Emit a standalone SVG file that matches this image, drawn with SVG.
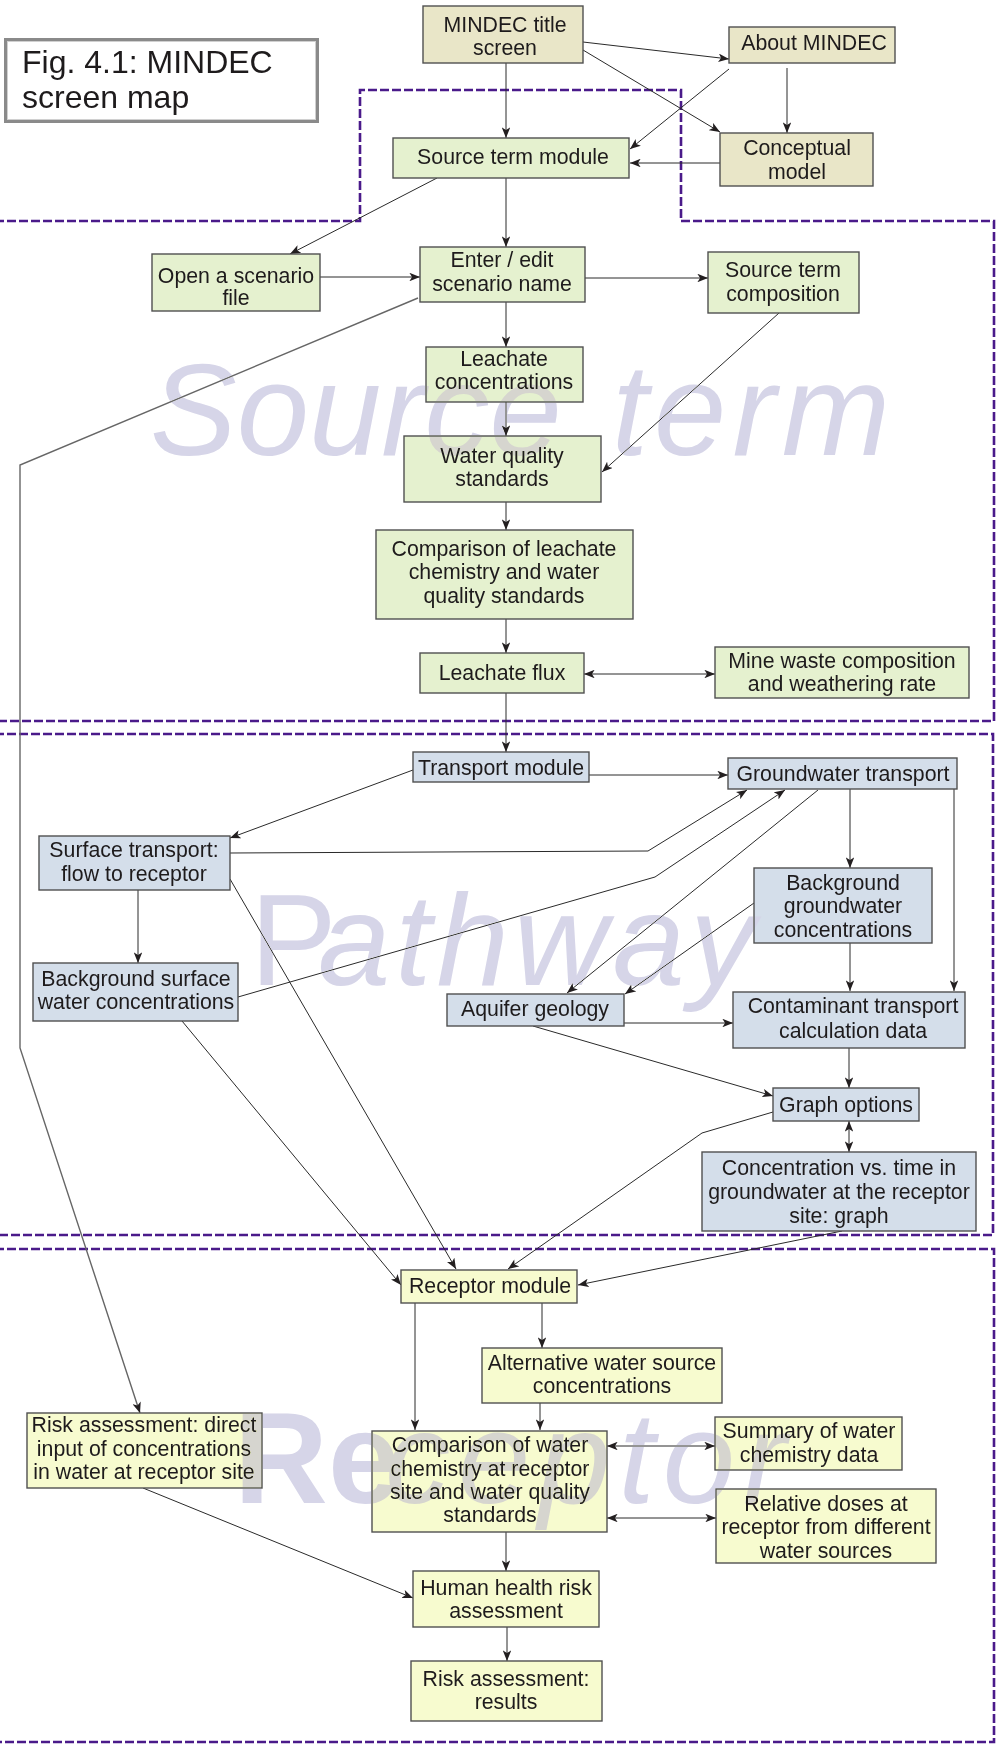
<svg xmlns="http://www.w3.org/2000/svg" width="996" height="1754" viewBox="0 0 996 1754">
<style>
text{font-family:"Liberation Sans",Arial,sans-serif;fill:#1e1b1c}
.n rect{stroke:#505050;stroke-width:1.4}
.n text{font-size:21.3px;text-anchor:middle}
.beige rect{fill:#e9e6c8}
.green rect{fill:#e5f1cf}
.blue rect{fill:#d4deea}
.yellow rect{fill:#f7fbcf}
.c line,.c polyline{stroke:#2a2a2a;stroke-width:1;fill:none}
.a{marker-end:url(#ah)}
.d{marker-start:url(#ah);marker-end:url(#ah)}
.reg{fill:none;stroke:#4a1a8a;stroke-width:2.6;stroke-dasharray:9 3}
.wm{fill:#d6d5e8;font-size:130px;mix-blend-mode:darken}
</style>
<defs>
<marker id="ah" viewBox="0 0 10 8" refX="10" refY="4" markerWidth="11" markerHeight="8.5" markerUnits="userSpaceOnUse" orient="auto-start-reverse">
<path d="M0,0 L10,4 L0,8 L2.5,4 z" fill="#231f20"/>
</marker>
</defs>
<rect width="996" height="1754" fill="#fff"/>

<g id="regions">
<path class="reg" d="M-5,221 H360 V90 H681 V221 H994 V721 H-5"/>
<path class="reg" d="M-5,734 H993 V1235 H-5"/>
<path class="reg" d="M-5,1249 H994 V1742 H-5"/>
</g>

<g id="connectors" class="c">
<line class="a" x1="583" y1="42" x2="729" y2="59"/>
<line class="a" x1="583" y1="50" x2="720" y2="132"/>
<line class="a" x1="506" y1="63" x2="506" y2="138"/>
<line class="a" x1="729" y1="69" x2="630" y2="149"/>
<line class="a" x1="787" y1="68" x2="787" y2="133"/>
<line class="a" x1="720" y1="163" x2="630" y2="163"/>
<line class="a" x1="437" y1="178" x2="290" y2="254"/>
<line class="a" x1="506" y1="178" x2="506" y2="247"/>
<line class="a" x1="320" y1="277" x2="420" y2="277"/>
<line class="a" x1="585" y1="278" x2="708" y2="278"/>
<line class="a" x1="506" y1="302" x2="506" y2="347"/>
<line class="a" x1="506" y1="402" x2="506" y2="436"/>
<line class="a" x1="779" y1="313" x2="602" y2="472"/>
<line class="a" x1="506" y1="502" x2="506" y2="530"/>
<line class="a" x1="506" y1="619" x2="506" y2="653"/>
<line class="d" x1="584" y1="674" x2="715" y2="674"/>
<line class="a" x1="506" y1="693" x2="506" y2="752"/>
<polyline class="a" points="418,298 20,465 20,1048 140,1413" style="stroke:#666;stroke-width:1.4"/>
<line class="a" x1="413" y1="770" x2="230" y2="838"/>
<line class="a" x1="589" y1="775" x2="728" y2="775"/>
<polyline class="a" points="230,853 648,851 747,790"/>
<polyline class="a" points="238,997 655,877 785,790"/>
<line class="a" x1="138" y1="890" x2="138" y2="963"/>
<line class="a" x1="230" y1="879" x2="456" y2="1269"/>
<line class="a" x1="182" y1="1021" x2="401" y2="1285"/>
<line class="a" x1="818" y1="790" x2="567" y2="993"/>
<line class="a" x1="754" y1="903" x2="625" y2="994"/>
<line class="a" x1="850" y1="789" x2="850" y2="868"/>
<line class="a" x1="954" y1="789" x2="954" y2="991"/>
<line class="a" x1="850" y1="943" x2="850" y2="991"/>
<line class="a" x1="624" y1="1023" x2="733" y2="1023"/>
<line class="a" x1="533" y1="1026" x2="773" y2="1096"/>
<line class="a" x1="849" y1="1048" x2="849" y2="1088"/>
<line class="d" x1="849" y1="1121" x2="849" y2="1152"/>
<polyline class="a" points="773,1112 702,1133 508,1269"/>
<line class="a" x1="842" y1="1231" x2="578" y2="1285"/>
<line class="a" x1="542" y1="1303" x2="542" y2="1348"/>
<line class="a" x1="415" y1="1303" x2="415" y2="1430"/>
<line class="a" x1="540" y1="1403" x2="540" y2="1430"/>
<line class="d" x1="607" y1="1446" x2="715" y2="1446"/>
<line class="d" x1="607" y1="1518" x2="716" y2="1518"/>
<line class="a" x1="506" y1="1532" x2="506" y2="1571"/>
<line class="a" x1="507" y1="1627" x2="507" y2="1661"/>
<line class="a" x1="143" y1="1488" x2="413" y2="1598"/>
</g>

<g id="fig-title">
<rect x="5.5" y="39.5" width="312" height="82" fill="#fff" stroke="#8a8a8a" stroke-width="3"/>
<rect x="7.5" y="41.5" width="308" height="78" fill="none" stroke="#d0d0d0" stroke-width="1"/>
<text x="22" y="73" font-size="32">Fig. 4.1: MINDEC</text>
<text x="22" y="108" font-size="32">screen map</text>
</g>

<g id="n-title" class="n beige"><rect x="423" y="6" width="160" height="57"/><text x="505" y="32">MINDEC title</text><text x="505" y="55">screen</text></g>
<g id="n-about" class="n beige"><rect x="729" y="27" width="166" height="36"/><text x="814" y="50">About MINDEC</text></g>
<g id="n-concept" class="n beige"><rect x="720" y="133" width="153" height="53"/><text x="797" y="155">Conceptual</text><text x="797" y="179">model</text></g>

<g id="n-srcmod" class="n green"><rect x="393" y="138" width="236" height="40"/><text x="513" y="164">Source term module</text></g>
<g id="n-open" class="n green"><rect x="152" y="254" width="168" height="57"/><text x="236" y="283">Open a scenario</text><text x="236" y="305">file</text></g>
<g id="n-enter" class="n green"><rect x="420" y="247" width="165" height="55"/><text x="502" y="267">Enter / edit</text><text x="502" y="291">scenario name</text></g>
<g id="n-stcomp" class="n green"><rect x="708" y="252" width="151" height="61"/><text x="783" y="277">Source term</text><text x="783" y="301">composition</text></g>
<g id="n-leachconc" class="n green"><rect x="426" y="347" width="157" height="55"/><text x="504" y="366">Leachate</text><text x="504" y="389">concentrations</text></g>
<g id="n-wqs" class="n green"><rect x="404" y="436" width="197" height="66"/><text x="502" y="463">Water quality</text><text x="502" y="486">standards</text></g>
<g id="n-compleach" class="n green"><rect x="376" y="530" width="257" height="89"/><text x="504" y="556">Comparison of leachate</text><text x="504" y="579">chemistry and water</text><text x="504" y="603">quality standards</text></g>
<g id="n-flux" class="n green"><rect x="420" y="653" width="164" height="40"/><text x="502" y="680">Leachate flux</text></g>
<g id="n-minewaste" class="n green"><rect x="715" y="647" width="254" height="51"/><text x="842" y="668">Mine waste composition</text><text x="842" y="691">and weathering rate</text></g>

<g id="n-transmod" class="n blue"><rect x="413" y="752" width="176" height="30"/><text x="501" y="775">Transport module</text></g>
<g id="n-gwtrans" class="n blue"><rect x="728" y="758" width="229" height="31"/><text x="843" y="781">Groundwater transport</text></g>
<g id="n-surftrans" class="n blue"><rect x="39" y="836" width="191" height="54"/><text x="134" y="857">Surface transport:</text><text x="134" y="881">flow to receptor</text></g>
<g id="n-bgsurf" class="n blue"><rect x="33" y="963" width="205" height="58"/><text x="136" y="986">Background surface</text><text x="136" y="1009">water concentrations</text></g>
<g id="n-bggw" class="n blue"><rect x="754" y="868" width="178" height="75"/><text x="843" y="890">Background</text><text x="843" y="913">groundwater</text><text x="843" y="937">concentrations</text></g>
<g id="n-aquifer" class="n blue"><rect x="447" y="994" width="177" height="32"/><text x="535" y="1016">Aquifer geology</text></g>
<g id="n-contam" class="n blue"><rect x="733" y="992" width="232" height="56"/><text x="853" y="1013">Contaminant transport</text><text x="853" y="1038">calculation data</text></g>
<g id="n-graph" class="n blue"><rect x="773" y="1088" width="146" height="33"/><text x="846" y="1112">Graph options</text></g>
<g id="n-concvtime" class="n blue"><rect x="702" y="1152" width="274" height="79"/><text x="839" y="1175">Concentration vs. time in</text><text x="839" y="1199">groundwater at the receptor</text><text x="839" y="1223">site: graph</text></g>

<g id="n-recmod" class="n yellow"><rect x="401" y="1270" width="176" height="33"/><text x="490" y="1293">Receptor module</text></g>
<g id="n-altwater" class="n yellow"><rect x="482" y="1348" width="240" height="55"/><text x="602" y="1370">Alternative water source</text><text x="602" y="1393">concentrations</text></g>
<g id="n-compwater" class="n yellow"><rect x="372" y="1431" width="235" height="101"/><text x="490" y="1452">Comparison of water</text><text x="490" y="1476">chemistry at receptor</text><text x="490" y="1499">site and water quality</text><text x="490" y="1522">standards</text></g>
<g id="n-summary" class="n yellow"><rect x="715" y="1417" width="187" height="53"/><text x="809" y="1438">Summary of water</text><text x="809" y="1462">chemistry data</text></g>
<g id="n-reldoses" class="n yellow"><rect x="716" y="1489" width="220" height="74"/><text x="826" y="1511">Relative doses at</text><text x="826" y="1534">receptor from different</text><text x="826" y="1558">water sources</text></g>
<g id="n-human" class="n yellow"><rect x="413" y="1571" width="186" height="56"/><text x="506" y="1595">Human health risk</text><text x="506" y="1618">assessment</text></g>
<g id="n-riskres" class="n yellow"><rect x="411" y="1661" width="191" height="60"/><text x="506" y="1686">Risk assessment:</text><text x="506" y="1709">results</text></g>
<g id="n-riskdirect" class="n yellow"><rect x="27" y="1413" width="235" height="75"/><text x="144" y="1432">Risk assessment: direct</text><text x="144" y="1456">input of concentrations</text><text x="144" y="1479">in water at receptor site</text></g>

<g id="watermarks">
<text class="wm" x="150" y="455" font-style="italic">Source<tspan x="612" letter-spacing="6">term</tspan></text>
<text class="wm" x="250" y="985" font-size="135">P<tspan x="318" font-style="italic" font-size="130" letter-spacing="5">athway</tspan></text>
<text class="wm" x="234" y="1503" font-size="126" font-weight="bold">Re<tspan x="385" font-style="italic" font-weight="normal" font-size="130" letter-spacing="8">ceptor</tspan></text>
</g>
</svg>
